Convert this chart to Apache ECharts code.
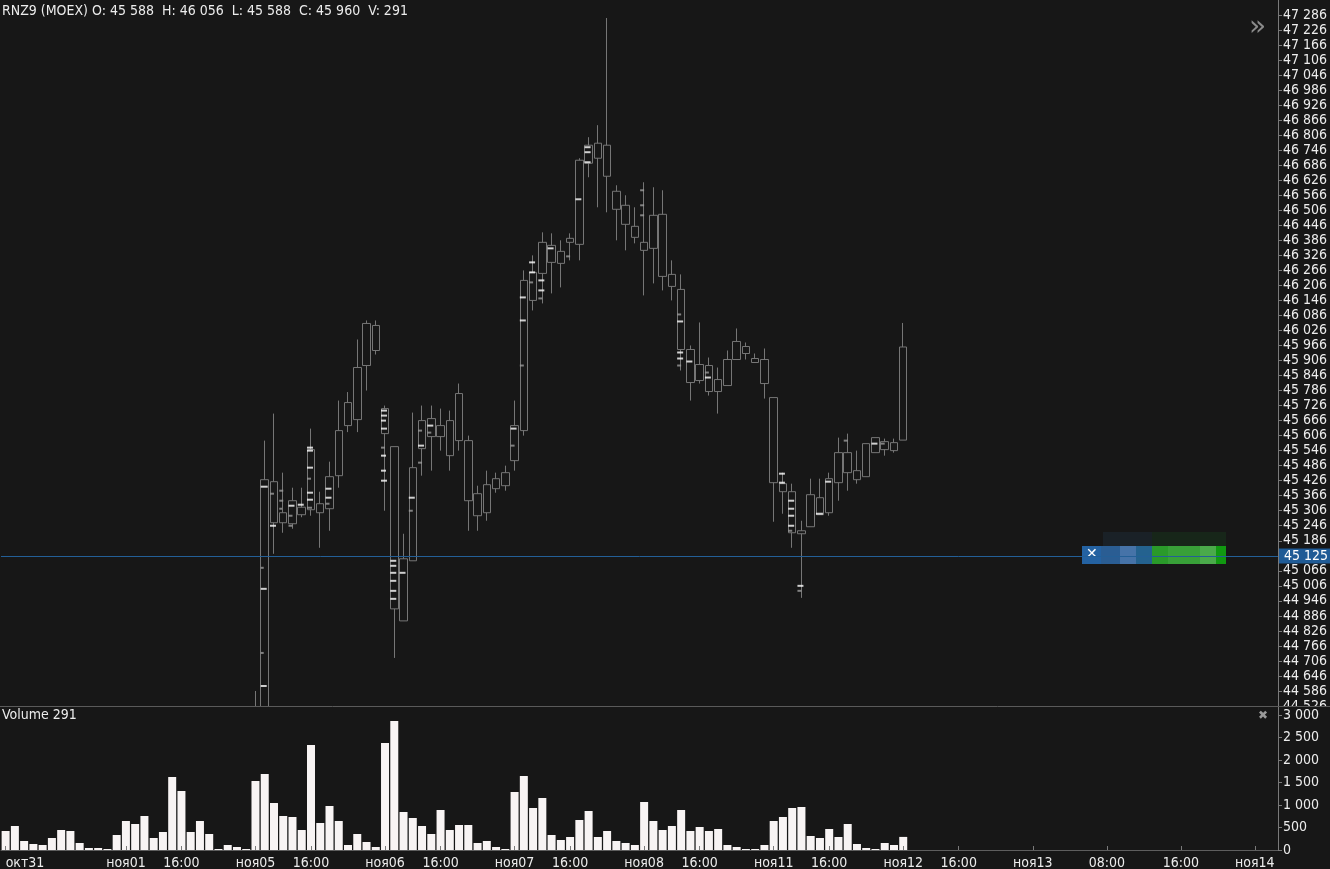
<!DOCTYPE html>
<html>
<head>
<meta charset="utf-8">
<title>RNZ9 (MOEX)</title>
<script src="https://cdn.jsdelivr.net/npm/echarts@6/dist/echarts.min.js"></script>
<style>
  html, body { margin: 0; padding: 0; background: #171717; }
  #chart { width: 1330px; height: 869px; }
</style>
</head>
<body>
<div id="chart"></div>
<script>
// торговые дни на экране, первый день виден с 11:00, последний только 10:00
const sessionDays = ['окт31', 'ноя01', 'ноя05', 'ноя06', 'ноя07', 'ноя08', 'ноя11', 'ноя12'];
const sessionHours = [10, 11, 12, 13, 14, 15, 16, 17, 18, 19, 20, 21, 22, 23];
// пустое будущее справа: ноя12 11:00 ... ноя14 02:00, по часу
const futureDays = ['ноя12', 'ноя13', 'ноя14'];
const futureSlots = 40;
const sessionTickHours = ['10:00', '16:00'];
const futureTickHours = ['00:00', '08:00', '16:00'];

// [open, close, low, high]
const ohlc = [
  [44420, 44390, 44370, 44450], [44390, 44350, 44320, 44410], [44350, 44370, 44340, 44390],
  [44370, 44360, 44345, 44385], [44360, 44380, 44350, 44395], [44380, 44400, 44365, 44420],
  [44400, 44360, 44340, 44430], [44360, 44330, 44310, 44380], [44330, 44340, 44320, 44355],
  [44340, 44345, 44335, 44350], [44345, 44340, 44335, 44350], [44340, 44342, 44338, 44346],
  [44342, 44310, 44290, 44360],
  [44300, 44360, 44270, 44390], [44360, 44400, 44340, 44430], [44400, 44340, 44310, 44440],
  [44340, 44320, 44300, 44360], [44320, 44370, 44310, 44390], [44370, 44250, 44180, 44400],
  [44250, 44180, 44120, 44290], [44180, 44210, 44160, 44240], [44210, 44280, 44190, 44310],
  [44280, 44260, 44240, 44300], [44260, 44262, 44255, 44268], [44262, 44250, 44240, 44275],
  [44250, 44255, 44245, 44262], [44255, 44258, 44250, 44263],
  [44300, 44480, 44260, 44586], [44480, 45430, 44470, 45586], [45422, 45258, 45134, 45694],
  [45258, 45298, 45218, 45458], [45346, 45254, 45234, 45398], [45290, 45320, 45280, 45398],
  [45310, 45550, 45286, 45634], [45334, 45298, 45158, 45382], [45314, 45442, 45226, 45502],
  [45446, 45626, 45398, 45746], [45646, 45738, 45620, 45780], [45670, 45878, 45620, 45990],
  [45886, 46054, 45786, 46066], [46046, 45946, 45930, 46066],
  [45714, 45614, 45306, 45726], [45562, 44914, 44718, 45562], [44866, 45114, 44866, 45214],
  [45106, 45478, 45106, 45698], [45554, 45666, 45446, 45726], [45674, 45602, 45466, 45726],
  [45602, 45646, 45546, 45714], [45666, 45526, 45466, 45706], [45586, 45774, 45546, 45814],
  [45586, 45346, 45226, 45606], [45374, 45286, 45226, 45406], [45298, 45410, 45266, 45466],
  [45394, 45434, 45378, 45458], [45406, 45458, 45386, 45486],
  [45506, 45646, 45466, 45746], [45626, 46226, 45606, 46266], [46258, 46146, 46106, 46326],
  [46254, 46378, 46134, 46418], [46366, 46298, 46174, 46414], [46294, 46342, 46198, 46386],
  [46378, 46394, 46306, 46414], [46370, 46706, 46306, 46714], [46694, 46766, 46638, 46798],
  [46774, 46714, 46518, 46846], [46766, 46642, 46498, 47274], [46582, 46510, 46386, 46606],
  [46526, 46450, 46346, 46566], [46442, 46398, 46374, 46518],
  [46378, 46346, 46166, 46618], [46354, 46486, 46214, 46598], [46490, 46242, 46186, 46586],
  [46250, 46202, 46146, 46306], [46190, 45950, 45866, 46250], [45950, 45818, 45746, 45966],
  [45826, 45890, 45814, 46058], [45886, 45782, 45766, 45918], [45782, 45830, 45694, 45878],
  [45806, 45910, 45806, 45946], [45910, 45982, 45910, 46034], [45962, 45934, 45910, 45978],
  [45914, 45898, 45898, 45934], [45910, 45814, 45754, 45954],
  [45758, 45418, 45262, 45758], [45414, 45382, 45294, 45458], [45382, 45218, 45158, 45414],
  [45226, 45214, 44958, 45266], [45242, 45370, 45242, 45434], [45358, 45290, 45290, 45434],
  [45298, 45434, 45286, 45458], [45418, 45538, 45346, 45598], [45538, 45458, 45386, 45614],
  [45466, 45430, 45414, 45546], [45442, 45574, 45442, 45574], [45538, 45598, 45538, 45598],
  [45582, 45550, 45526, 45594], [45546, 45578, 45538, 45594],
  [45588, 45960, 45588, 46056]
];

const volumes = [
  422, 533, 200, 133, 111, 267, 444, 422, 156, 44, 44, 22, 333,
  644, 578, 756, 267, 400, 1622, 1311, 400, 644, 356, 22, 111, 67, 22,
  1533, 1689, 1044, 756, 733, 444, 2333, 600, 978, 644, 111, 356, 178, 67,
  2378, 2867, 844, 711, 533, 356, 889, 444, 556, 556, 156, 200, 67, 22,
  1289, 1644, 933, 1156, 333, 222, 289, 667, 867, 289, 422, 200, 156, 111,
  1067, 644, 444, 533, 889, 422, 511, 422, 467, 111, 67, 22, 22, 111,
  644, 733, 933, 956, 311, 267, 467, 289, 578, 133, 44, 22, 156, 111,
  291
];

// кластеры внутри свечей: [номер свечи с 1, цена, длина штриха, 1 = яркий / 0 = серый]
const clusters = [
  [29, 45402, 7, 1], [29, 45078, 3, 0], [29, 44994, 6, 1], [29, 44738, 3, 0], [29, 44606, 6, 1],
  [30, 45374, 4, 0], [30, 45246, 6, 1],
  [31, 45386, 4, 0], [31, 45346, 4, 0], [31, 45314, 3, 0],
  [32, 45326, 6, 1], [32, 45286, 4, 0], [32, 45246, 4, 0],
  [33, 45330, 6, 1],
  [34, 45558, 6, 1], [34, 45546, 6, 1], [34, 45478, 6, 1], [34, 45434, 4, 0],
  [34, 45378, 6, 1], [34, 45350, 6, 1], [34, 45318, 5, 0],
  [36, 45394, 6, 1], [36, 45358, 6, 1], [36, 45334, 4, 0],
  [42, 45706, 6, 1], [42, 45686, 6, 1], [42, 45666, 5, 1], [42, 45634, 6, 1],
  [42, 45558, 4, 0], [42, 45526, 5, 1], [42, 45466, 5, 1], [42, 45426, 6, 1],
  [43, 45106, 6, 1], [43, 45086, 6, 1], [43, 45058, 6, 1], [43, 45026, 6, 1],
  [43, 44986, 6, 1], [43, 44954, 6, 1],
  [44, 45058, 6, 1],
  [45, 45358, 6, 1], [45, 45306, 4, 0],
  [46, 45626, 4, 0], [46, 45566, 6, 1], [46, 45498, 4, 0],
  [47, 45646, 6, 1], [47, 45618, 4, 0],
  [56, 45634, 6, 1], [56, 45566, 4, 0],
  [57, 46158, 6, 1], [57, 46066, 6, 1], [57, 45886, 4, 0],
  [58, 46298, 6, 1], [58, 46258, 6, 1], [58, 46218, 4, 0],
  [59, 46226, 6, 1], [59, 46186, 6, 1], [59, 46154, 4, 0],
  [60, 46354, 6, 1], [62, 46322, 4, 0], [63, 46550, 6, 1],
  [64, 46758, 6, 1], [64, 46738, 6, 1], [64, 46698, 6, 1],
  [70, 46586, 4, 0], [70, 46526, 4, 0], [70, 46486, 4, 0],
  [74, 46090, 4, 0], [74, 46062, 6, 1], [74, 45938, 6, 1], [74, 45914, 6, 1], [74, 45886, 4, 0],
  [75, 45902, 6, 1],
  [77, 45858, 4, 0], [77, 45838, 6, 1],
  [85, 45454, 6, 1], [85, 45418, 6, 1],
  [86, 45346, 6, 1], [86, 45314, 6, 1], [86, 45286, 6, 1], [86, 45246, 6, 1], [86, 45226, 4, 0],
  [87, 45006, 6, 1], [87, 44986, 4, 0],
  [89, 45294, 7, 1], [90, 45422, 6, 1], [92, 45586, 4, 0],
  [95, 45574, 6, 1], [96, 45574, 4, 0]
];

const symbol = 'RNZ9 (MOEX)';
const orderPrice = 45125;

// ---- категории по часам
const categories = [];
const tickLabels = [];
const pad = h => (h < 10 ? '0' : '') + h + ':00';
sessionDays.forEach((day, d) => {
  let hours = sessionHours;
  if (d === 0) hours = sessionHours.slice(1);
  if (d === sessionDays.length - 1) hours = sessionHours.slice(0, 1);
  hours.forEach((h, k) => {
    const hh = pad(h);
    categories.push(day + ' ' + hh);
    let lab = '';
    if (d === 0) lab = k === 0 ? day : '';
    else if (sessionTickHours.indexOf(hh) >= 0) lab = hh === '10:00' ? day : hh;
    tickLabels.push(lab);
  });
});
let fd = 0, fh = 11;
for (let i = 0; i < futureSlots; i++) {
  const hh = pad(fh);
  categories.push(futureDays[fd] + ' ' + hh);
  let lab = '';
  if (futureTickHours.indexOf(hh) >= 0) lab = hh === '00:00' ? futureDays[fd] : hh;
  tickLabels.push(lab);
  fh++;
  if (fh === 24) { fh = 0; fd++; }
}

const fmt = v => String(Math.round(v)).replace(/\B(?=(\d{3})+(?!\d))/g, ' ');
const last = ohlc[ohlc.length - 1];
const lastIdx = ohlc.length - 1;
const lastVol = volumes[volumes.length - 1];

const FONT = 'DejaVu Sans Condensed, DejaVu Sans, sans-serif';
const BG = '#171717';
const AXIS = '#7a7a7a';
const TXT = '#ececec';
const BODY_W = 8;

// штрихи кластеров прижаты к левому краю тела свечи
const clusterData = clusters.map(c => ({
  value: [c[0] - 1, c[1]],
  symbolSize: [c[2], 2],
  symbolOffset: [c[2] / 2 - BODY_W / 2, 0],
  itemStyle: { color: c[3] ? '#ffffff' : '#9c9c9c' }
}));

const chart = echarts.init(document.getElementById('chart'));
const option = {
  backgroundColor: BG,
  animation: false,
  textStyle: { fontFamily: FONT },
  grid: [
    { left: 1, right: 52, top: 0, height: 706, outerBoundsMode: 'none', containLabel: false },
    { left: 1, right: 52, top: 707, height: 143, outerBoundsMode: 'none', containLabel: false }
  ],
  xAxis: [
    {
      type: 'category', gridIndex: 0, data: categories,
      axisLine: { show: false }, axisTick: { show: false },
      axisLabel: { show: false }, splitLine: { show: false }
    },
    {
      type: 'category', gridIndex: 1, data: categories, z: 6,
      axisLine: { lineStyle: { color: '#5e5e5e' } },
      axisTick: {
        show: true, inside: true, length: 4, alignWithLabel: true,
        interval: i => tickLabels[i] !== '',
        lineStyle: { color: AXIS }
      },
      axisLabel: {
        interval: i => tickLabels[i] !== '',
        formatter: (v, i) => tickLabels[i],
        showMinLabel: true, alignMinLabel: 'left',
        color: TXT, fontSize: 14, fontFamily: FONT, margin: 6
      },
      splitLine: { show: false }
    }
  ],
  yAxis: [
    {
      type: 'value', gridIndex: 0, position: 'right',
      min: 44526, max: 47346, interval: 60,
      splitLine: { show: false },
      axisLine: { show: true, lineStyle: { color: AXIS } },
      axisTick: { show: true, length: 4, lineStyle: { color: AXIS } },
      axisLabel: {
        color: TXT, fontSize: 14, fontFamily: FONT, margin: 5,
        formatter: fmt, showMaxLabel: false, showMinLabel: true
      }
    },
    {
      type: 'value', gridIndex: 1, position: 'right', z: 6,
      min: 0, max: 3178, interval: 500,
      splitLine: { show: false },
      axisLine: { show: true, lineStyle: { color: AXIS } },
      axisTick: { show: true, length: 4, lineStyle: { color: AXIS } },
      axisLabel: {
        color: TXT, fontSize: 14, fontFamily: FONT, margin: 5,
        formatter: fmt, showMaxLabel: false
      }
    }
  ],
  series: [
    {
      name: symbol, type: 'candlestick', xAxisIndex: 0, yAxisIndex: 0,
      data: ohlc, barWidth: BODY_W, clip: true, z: 2,
      itemStyle: {
        color: BG, color0: BG,
        borderColor: '#767676', borderColor0: '#767676', borderWidth: 1
      },
      markLine: {
        silent: true, symbol: ['none', 'none'], animation: false,
        data: [
          [
            {
              coord: [lastIdx + 0.62, last[1]],
              lineStyle: { color: '#33c4d4', width: 1, type: 'solid' },
              label: {
                show: true, position: 'end', distance: 1, formatter: fmt(last[1]),
                color: '#ffffff', backgroundColor: '#2fc3d3',
                fontSize: 14, fontFamily: FONT, padding: [1, 3, 0, 5]
              }
            },
            { coord: [categories.length - 0.5, last[1]] }
          ],
          {
            yAxis: orderPrice,
            lineStyle: { color: '#235f97', width: 1, type: 'solid' },
            label: {
              show: true, position: 'end', distance: 1, formatter: fmt(orderPrice),
              color: '#ffffff', backgroundColor: '#1f5b96',
              fontSize: 14, fontFamily: FONT, padding: [1, 3, 0, 5]
            }
          }
        ]
      }
    },
    {
      name: 'clusters', type: 'scatter', xAxisIndex: 0, yAxisIndex: 0,
      data: clusterData, symbol: 'rect', z: 3, silent: true, clip: true
    },
    {
      name: 'Volume', type: 'bar', xAxisIndex: 1, yAxisIndex: 1,
      data: volumes, barWidth: BODY_W, z: 6,
      itemStyle: { color: '#f8f4f4' },
      markLine: {
        silent: true, symbol: ['none', 'none'], animation: false,
        data: [{
          yAxis: lastVol,
          lineStyle: { opacity: 0 },
          label: {
            show: true, position: 'end', distance: 1, formatter: String(lastVol),
            color: '#000000', backgroundColor: '#ffffff',
            fontSize: 14, fontFamily: FONT, padding: [1, 24, 0, 5]
          }
        }]
      }
    }
  ],
  graphic: [
    // низ ценовой панели: свечи, уходящие под край, не должны лезть в объём
    {
      type: 'rect', z: 4,
      shape: { x: 0, y: 707, width: 1330, height: 162 },
      style: { fill: BG }
    },
    {
      type: 'text', left: 2, top: 4, z: 50,
      style: {
        text: symbol + ' O: ' + fmt(last[0]) + '  H: ' + fmt(last[3]) + '  L: ' + fmt(last[2]) +
          '  C: ' + fmt(last[1]) + '  V: ' + lastVol,
        fill: TXT, fontSize: 14, fontFamily: FONT
      }
    },
    {
      type: 'text', left: 2, top: 708, z: 50,
      style: { text: 'Volume ' + lastVol, fill: TXT, fontSize: 14, fontFamily: FONT }
    },
    {
      type: 'line', z: 40,
      shape: { x1: 0, y1: 706.5, x2: 1330, y2: 706.5 },
      style: { stroke: '#5a5a5a', lineWidth: 1 }
    },
    {
      type: 'text', left: 1249, top: 14, z: 50,
      style: { text: '»', fill: '#8a8a8a', fontSize: 28, fontFamily: 'DejaVu Sans' }
    },
    {
      type: 'text', left: 1258, top: 710, z: 50,
      style: { text: '✖', fill: '#9a9a9a', fontSize: 12, fontFamily: 'DejaVu Sans' }
    },
    // панель заявки
    {
      type: 'group', left: 1082, top: 532, z: 60,
      children: [
        { type: 'rect', shape: { x: 21, y: 0, width: 49, height: 14 }, style: { fill: '#1a2127' } },
        { type: 'rect', shape: { x: 70, y: 0, width: 74, height: 14 }, style: { fill: '#172619' } },
        { type: 'rect', shape: { x: 0, y: 14, width: 19, height: 18 }, style: { fill: '#2462a2' } },
        { type: 'text', x: 4, y: 15, style: { text: '✕', fill: '#ffffff', fontSize: 14, fontFamily: 'DejaVu Sans' } },
        { type: 'rect', shape: { x: 19, y: 14, width: 19, height: 18 }, style: { fill: '#2a5d93' } },
        { type: 'rect', shape: { x: 38, y: 14, width: 16, height: 18 }, style: { fill: '#4673a8' } },
        { type: 'rect', shape: { x: 54, y: 14, width: 16, height: 18 }, style: { fill: '#24628f' } },
        { type: 'rect', shape: { x: 70, y: 14, width: 16, height: 18 }, style: { fill: '#2a9a2a' } },
        { type: 'rect', shape: { x: 86, y: 14, width: 32, height: 18 }, style: { fill: '#38a038' } },
        { type: 'rect', shape: { x: 118, y: 14, width: 16, height: 18 }, style: { fill: '#4aaa4a' } },
        { type: 'rect', shape: { x: 134, y: 14, width: 10, height: 18 }, style: { fill: '#119911' } }
      ]
    }
  ]
};
chart.setOption(option);
window.addEventListener('resize', () => chart.resize());
</script>
</body>
</html>
